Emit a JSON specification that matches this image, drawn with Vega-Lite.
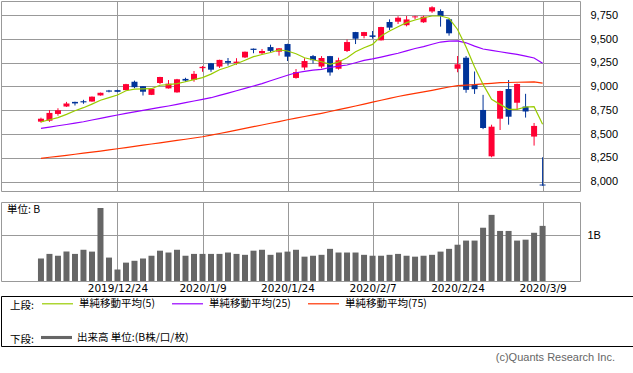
{
  "$schema": "https://vega.github.io/schema/vega-lite/v6.json",
  "padding": 0,
  "background": "#ffffff",
  "config": {
    "view": {"stroke": "#999999", "strokeWidth": 1},
    "axis": {"gridColor": "#999999", "gridOpacity": 1, "gridWidth": 1, "domain": false, "ticks": false, "labelColor": "#000000", "labelFont": "Liberation Sans", "labelFontSize": 11},
    "font": "Liberation Sans"
  },
  "data": {"values": [
    {"day":0,"date":"2019/12/11","open":8630,"high":8672,"low":8620,"close":8661,"ma5":8628,"ma25":8560,"ma75":8244,"volume":0.49},
    {"day":1,"date":"2019/12/12","open":8640,"high":8752,"low":8628,"close":8722,"ma5":8650,"ma25":8573,"ma75":8255,"volume":0.59},
    {"day":2,"date":"2019/12/13","open":8711,"high":8771,"low":8693,"close":8750,"ma5":8672,"ma25":8587,"ma75":8265,"volume":0.55},
    {"day":3,"date":"2019/12/16","open":8789,"high":8838,"low":8785,"close":8820,"ma5":8707,"ma25":8600,"ma75":8276,"volume":0.64},
    {"day":4,"date":"2019/12/17","open":8838,"high":8840,"low":8800,"close":8822,"ma5":8745,"ma25":8615,"ma75":8287,"volume":0.59},
    {"day":5,"date":"2019/12/18","open":8845,"high":8860,"low":8818,"close":8833,"ma5":8777,"ma25":8629,"ma75":8298,"volume":0.68},
    {"day":6,"date":"2019/12/19","open":8842,"high":8895,"low":8840,"close":8893,"ma5":8815,"ma25":8647,"ma75":8310,"volume":0.64},
    {"day":7,"date":"2019/12/20","open":8906,"high":8936,"low":8904,"close":8934,"ma5":8855,"ma25":8665,"ma75":8320,"volume":1.59},
    {"day":8,"date":"2019/12/23","open":8958,"high":8964,"low":8938,"close":8946,"ma5":8883,"ma25":8683,"ma75":8332,"volume":0.51},
    {"day":9,"date":"2019/12/24","open":8962,"high":8966,"low":8940,"close":8944,"ma5":8910,"ma25":8700,"ma75":8345,"volume":0.25},
    {"day":10,"date":"2019/12/26","open":8962,"high":9028,"low":8960,"close":9025,"ma5":8955,"ma25":8718,"ma75":8357,"volume":0.40},
    {"day":11,"date":"2019/12/27","open":9050,"high":9062,"low":8982,"close":8993,"ma5":8972,"ma25":8733,"ma75":8370,"volume":0.44},
    {"day":12,"date":"2019/12/30","open":9003,"high":9005,"low":8905,"close":8945,"ma5":8975,"ma25":8749,"ma75":8382,"volume":0.49},
    {"day":13,"date":"2019/12/31","open":8912,"high":8980,"low":8910,"close":8977,"ma5":8977,"ma25":8764,"ma75":8395,"volume":0.55},
    {"day":14,"date":"2020/1/2","open":9037,"high":9102,"low":9025,"close":9100,"ma5":9013,"ma25":8780,"ma75":8407,"volume":0.66},
    {"day":15,"date":"2020/1/3","open":8980,"high":9068,"low":8978,"close":9030,"ma5":9020,"ma25":8795,"ma75":8420,"volume":0.62},
    {"day":16,"date":"2020/1/6","open":8938,"high":9080,"low":8935,"close":9076,"ma5":9030,"ma25":8812,"ma75":8432,"volume":0.68},
    {"day":17,"date":"2020/1/7","open":9080,"high":9092,"low":9050,"close":9062,"ma5":9050,"ma25":8830,"ma75":8445,"volume":0.55},
    {"day":18,"date":"2020/1/8","open":9070,"high":9163,"low":9050,"close":9133,"ma5":9072,"ma25":8847,"ma75":8458,"volume":0.59},
    {"day":19,"date":"2020/1/9","open":9193,"high":9216,"low":9155,"close":9207,"ma5":9093,"ma25":8864,"ma75":8471,"volume":0.59},
    {"day":20,"date":"2020/1/10","open":9245,"high":9248,"low":9155,"close":9177,"ma5":9130,"ma25":8882,"ma75":8488,"volume":0.59},
    {"day":21,"date":"2020/1/13","open":9210,"high":9282,"low":9195,"close":9280,"ma5":9177,"ma25":8906,"ma75":8505,"volume":0.59},
    {"day":22,"date":"2020/1/14","open":9268,"high":9300,"low":9220,"close":9250,"ma5":9205,"ma25":8931,"ma75":8523,"volume":0.62},
    {"day":23,"date":"2020/1/15","open":9247,"high":9298,"low":9228,"close":9262,"ma5":9240,"ma25":8955,"ma75":8541,"volume":0.59},
    {"day":24,"date":"2020/1/16","open":9306,"high":9368,"low":9300,"close":9366,"ma5":9276,"ma25":8980,"ma75":8559,"volume":0.57},
    {"day":25,"date":"2020/1/17","open":9398,"high":9400,"low":9350,"close":9385,"ma5":9314,"ma25":9005,"ma75":8577,"volume":0.66},
    {"day":26,"date":"2020/1/21","open":9350,"high":9395,"low":9340,"close":9374,"ma5":9337,"ma25":9030,"ma75":8595,"volume":0.68},
    {"day":27,"date":"2020/1/22","open":9415,"high":9440,"low":9360,"close":9375,"ma5":9358,"ma25":9060,"ma75":8613,"volume":0.57},
    {"day":28,"date":"2020/1/23","open":9367,"high":9405,"low":9325,"close":9402,"ma5":9385,"ma25":9090,"ma75":8631,"volume":0.62},
    {"day":29,"date":"2020/1/24","open":9447,"high":9450,"low":9268,"close":9314,"ma5":9374,"ma25":9118,"ma75":8650,"volume":0.64},
    {"day":30,"date":"2020/1/27","open":9090,"high":9184,"low":9082,"close":9152,"ma5":9345,"ma25":9145,"ma75":8667,"volume":0.68},
    {"day":31,"date":"2020/1/28","open":9200,"high":9298,"low":9175,"close":9268,"ma5":9303,"ma25":9160,"ma75":8684,"volume":0.53},
    {"day":32,"date":"2020/1/29","open":9320,"high":9332,"low":9242,"close":9277,"ma5":9282,"ma25":9172,"ma75":8701,"volume":0.55},
    {"day":33,"date":"2020/1/30","open":9210,"high":9320,"low":9192,"close":9300,"ma5":9261,"ma25":9181,"ma75":8718,"volume":0.57},
    {"day":34,"date":"2020/1/31","open":9320,"high":9322,"low":9114,"close":9148,"ma5":9234,"ma25":9200,"ma75":8737,"volume":0.70},
    {"day":35,"date":"2020/2/3","open":9187,"high":9303,"low":9177,"close":9276,"ma5":9258,"ma25":9215,"ma75":8756,"volume":0.62},
    {"day":36,"date":"2020/2/4","open":9374,"high":9495,"low":9363,"close":9468,"ma5":9303,"ma25":9226,"ma75":8775,"volume":0.62},
    {"day":37,"date":"2020/2/5","open":9573,"high":9575,"low":9447,"close":9503,"ma5":9366,"ma25":9250,"ma75":8795,"volume":0.62},
    {"day":38,"date":"2020/2/6","open":9532,"high":9575,"low":9507,"close":9573,"ma5":9408,"ma25":9275,"ma75":8815,"volume":0.57},
    {"day":39,"date":"2020/2/7","open":9538,"high":9584,"low":9503,"close":9522,"ma5":9443,"ma25":9290,"ma75":8835,"volume":0.55},
    {"day":40,"date":"2020/2/10","open":9486,"high":9628,"low":9484,"close":9626,"ma5":9532,"ma25":9310,"ma75":8855,"volume":0.55},
    {"day":41,"date":"2020/2/11","open":9679,"high":9707,"low":9595,"close":9620,"ma5":9584,"ma25":9330,"ma75":8875,"volume":0.57},
    {"day":42,"date":"2020/2/12","open":9682,"high":9740,"low":9658,"close":9724,"ma5":9629,"ma25":9350,"ma75":8895,"volume":0.59},
    {"day":43,"date":"2020/2/13","open":9645,"high":9742,"low":9633,"close":9706,"ma5":9672,"ma25":9375,"ma75":8912,"volume":0.55},
    {"day":44,"date":"2020/2/14","open":9728,"high":9745,"low":9707,"close":9738,"ma5":9700,"ma25":9400,"ma75":8928,"volume":0.53},
    {"day":45,"date":"2020/2/18","open":9676,"high":9745,"low":9670,"close":9735,"ma5":9724,"ma25":9420,"ma75":8944,"volume":0.55},
    {"day":46,"date":"2020/2/19","open":9790,"high":9845,"low":9775,"close":9834,"ma5":9742,"ma25":9445,"ma75":8960,"volume":0.57},
    {"day":47,"date":"2020/2/20","open":9795,"high":9812,"low":9630,"close":9742,"ma5":9742,"ma25":9468,"ma75":8978,"volume":0.64},
    {"day":48,"date":"2020/2/21","open":9707,"high":9710,"low":9535,"close":9560,"ma5":9718,"ma25":9478,"ma75":8995,"volume":0.70},
    {"day":49,"date":"2020/2/24","open":9187,"high":9321,"low":9150,"close":9234,"ma5":9600,"ma25":9480,"ma75":9010,"volume":0.79},
    {"day":50,"date":"2020/2/25","open":9303,"high":9321,"low":8934,"close":8965,"ma5":9415,"ma25":9460,"ma75":9015,"volume":0.88},
    {"day":51,"date":"2020/2/26","open":9021,"high":9158,"low":8922,"close":8972,"ma5":9205,"ma25":9425,"ma75":9020,"volume":0.88},
    {"day":52,"date":"2020/2/27","open":8753,"high":8912,"low":8551,"close":8563,"ma5":9022,"ma25":9395,"ma75":9027,"volume":1.16},
    {"day":53,"date":"2020/2/28","open":8265,"high":8598,"low":8255,"close":8577,"ma5":8865,"ma25":9380,"ma75":9033,"volume":1.44},
    {"day":54,"date":"2020/3/2","open":8661,"high":8955,"low":8542,"close":8953,"ma5":8812,"ma25":9366,"ma75":9040,"volume":1.09},
    {"day":55,"date":"2020/3/3","open":8974,"high":9068,"low":8598,"close":8682,"ma5":8760,"ma25":9352,"ma75":9042,"volume":1.09},
    {"day":56,"date":"2020/3/4","open":8829,"high":9030,"low":8753,"close":9027,"ma5":8760,"ma25":9339,"ma75":9045,"volume":0.88},
    {"day":57,"date":"2020/3/5","open":8789,"high":8923,"low":8673,"close":8737,"ma5":8784,"ma25":9320,"ma75":9047,"volume":0.90},
    {"day":58,"date":"2020/3/6","open":8473,"high":8616,"low":8378,"close":8585,"ma5":8788,"ma25":9300,"ma75":9048,"volume":1.05},
    {"day":59,"date":"2020/3/9","open":7968,"high":8255,"low":7955,"close":7958,"ma5":8602,"ma25":9244,"ma75":9035,"volume":1.20}
  ]},
  "bounds": "flush",
  "spacing": 11,
  "resolve": {"scale": {"color": "independent", "stroke": "independent"}, "legend": {"color": "independent", "stroke": "independent"}},
  "vconcat": [
    {
      "width": 579,
      "height": 190,
      "encoding": {
        "x": {"field": "day", "type": "quantitative",
          "scale": {"domain": [-4.7, 63.4], "nice": false, "zero": false, "padding": 0},
          "axis": {"values": [9, 19, 29, 39, 49, 59], "labels": false, "ticks": false, "domain": false, "grid": true, "title": null}}
      },
      "layer": [
        {
          "mark": {"type": "rule", "strokeWidth": 1},
          "encoding": {
            "y": {"field": "low", "type": "quantitative", "scale": {"domain": [7900, 9900], "nice": false, "zero": false},
              "axis": {"orient": "right", "values": [8000,8250,8500,8750,9000,9250,9500,9750], "labelExpr": "format(datum.value, ',')", "labelPadding": 10, "grid": true, "title": null}},
            "y2": {"field": "high"},
            "color": {"condition": {"test": "datum.close >= datum.open", "value": "#ff0033"}, "value": "#003399"}
          }
        },
        {
          "mark": {"type": "bar", "width": 6},
          "encoding": {
            "y": {"field": "open", "type": "quantitative",
              "axis": {"orient": "right", "values": [8000,8250,8500,8750,9000,9250,9500,9750], "labelExpr": "format(datum.value, ',')", "labelPadding": 10, "grid": true, "title": null}},
            "y2": {"field": "close"},
            "color": {"condition": {"test": "datum.close >= datum.open", "value": "#ff0033"}, "value": "#003399"}
          }
        },
        {
          "mark": {"type": "line", "strokeWidth": 1.2},
          "encoding": {
            "y": {"field": "ma75", "type": "quantitative",
              "axis": {"orient": "right", "values": [8000,8250,8500,8750,9000,9250,9500,9750], "labelExpr": "format(datum.value, ',')", "labelPadding": 10, "grid": true, "title": null}},
            "stroke": {"datum": "単純移動平均(75)"}
          }
        },
        {
          "mark": {"type": "line", "strokeWidth": 1.2},
          "encoding": {
            "y": {"field": "ma25", "type": "quantitative",
              "axis": {"orient": "right", "values": [8000,8250,8500,8750,9000,9250,9500,9750], "labelExpr": "format(datum.value, ',')", "labelPadding": 10, "grid": true, "title": null}},
            "stroke": {"datum": "単純移動平均(25)"}
          }
        },
        {
          "mark": {"type": "line", "strokeWidth": 1.2},
          "encoding": {
            "y": {"field": "ma5", "type": "quantitative",
              "axis": {"orient": "right", "values": [8000,8250,8500,8750,9000,9250,9500,9750], "labelExpr": "format(datum.value, ',')", "labelPadding": 10, "grid": true, "title": null}},
            "stroke": {"datum": "単純移動平均(5)",
              "scale": {"domain": ["単純移動平均(5)", "単純移動平均(25)", "単純移動平均(75)"], "range": ["#99cc00", "#9900ff", "#ff3300"]},
              "legend": {"orient": "none", "legendX": 9, "legendY": 286.3, "direction": "horizontal", "columns": 3,
                "title": "上段:", "titleOrient": "left", "titleAnchor": "end", "titleBaseline": "alphabetic", "titlePadding": 7,
                "titleFont": "Noto Sans CJK JP", "titleFontSize": 10.5, "titleFontWeight": "normal", "titleColor": "#000000",
                "labelFont": "Noto Sans CJK JP", "labelFontSize": 10.5, "labelColor": "#000000", "labelOffset": 5,
                "symbolType": "stroke", "symbolSize": 961, "symbolStrokeWidth": 1.2, "columnPadding": 14, "padding": 0}}
          }
        }
      ]
    },
    {
      "bounds": "flush",
      "spacing": 15,
      "resolve": {"scale": {"color": "independent"}, "legend": {"color": "independent"}},
      "vconcat": [
        {
          "width": 579,
          "height": 79,
          "title": {"text": "単位: B", "orient": "top", "anchor": "start", "frame": "group", "offset": -9, "baseline": "middle", "dx": 6, "dy": 9.5,
            "font": "Noto Sans CJK JP", "fontSize": 10.5, "fontWeight": "normal", "color": "#000000"},
          "mark": {"type": "bar", "width": 6},
          "encoding": {
            "x": {"field": "day", "type": "quantitative",
              "scale": {"domain": [-4.7, 63.4], "nice": false, "zero": false, "padding": 0},
              "axis": {"values": [9, 19, 29, 39, 49, 59],
                "labelExpr": "datum.value == 9 ? '2019/12/24' : datum.value == 19 ? '2020/1/9' : datum.value == 29 ? '2020/1/24' : datum.value == 39 ? '2020/2/7' : datum.value == 49 ? '2020/2/24' : '2020/3/9'",
                "labelAngle": 0, "labelOverlap": false, "labelBound": false, "labelFlush": false,
                "labelFont": "DejaVu Sans", "labelFontSize": 10.5, "labelPadding": 2, "ticks": false, "domain": false, "grid": true, "title": null}},
            "y": {"field": "volume", "type": "quantitative", "scale": {"domain": [0, 1.72], "nice": false},
              "axis": {"orient": "right", "values": [1], "labelExpr": "datum.value + 'B'", "labelPadding": 7, "grid": true, "title": null}},
            "color": {"datum": "出来高 単位:(B株/口/枚)", "scale": {"range": ["#666666"]},
              "legend": {"orient": "none", "legendX": 9, "legendY": 120, "title": "下段:", "titleOrient": "left", "titleAnchor": "end", "titleBaseline": "alphabetic", "titlePadding": 7,
                "titleFont": "Noto Sans CJK JP", "titleFontSize": 10.5, "titleFontWeight": "normal", "titleColor": "#000000",
                "labelFont": "Noto Sans CJK JP", "labelFontSize": 10.5, "labelColor": "#000000", "labelOffset": 5,
                "symbolType": "M-1,-0.1H1V0.1H-1Z", "symbolSize": 961, "symbolStrokeWidth": 0, "padding": 0}}
          }
        },
        {
          "width": 632,
          "height": 50,
          "view": {"stroke": "#000000", "strokeWidth": 1},
          "data": {"values": []},
          "mark": "point",
          "encoding": {},
          "title": {"text": "(c)Quants Research Inc.", "orient": "bottom", "anchor": "end", "frame": "group", "dx": -18, "offset": 6,
            "font": "Liberation Sans", "fontSize": 11, "fontWeight": "normal", "color": "#666666"}
        }
      ]
    }
  ]
}
